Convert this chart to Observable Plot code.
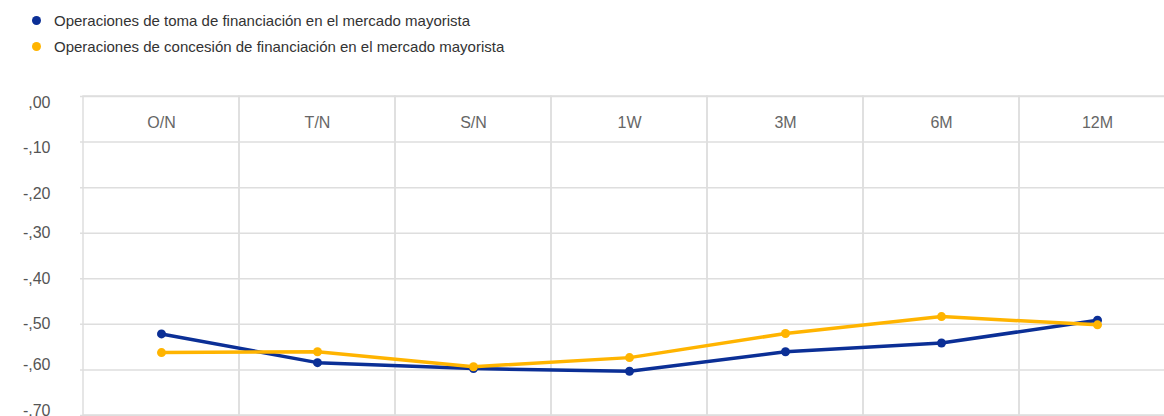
<!DOCTYPE html>
<html>
<head>
<meta charset="utf-8">
<script src="https://cdn.jsdelivr.net/npm/d3@7"></script>
<script src="https://cdn.jsdelivr.net/npm/@observablehq/plot@0.6"></script>
<style>
  html, body { margin: 0; padding: 0; background: #fff; overflow: hidden; }
  body { width: 1164px; height: 416px; font-family: "Liberation Sans", Arial, sans-serif; }
  #legend { height: 70px; box-sizing: border-box; padding-top: 7px; padding-left: 32px; }
  .item { display: flex; align-items: center; height: 26px; font-size: 15px; color: #333; }
  .sw { width: 9px; height: 9px; border-radius: 50%; margin-right: 13px; }
</style>
</head>
<body>
<div id="legend"></div>
<div id="chart"></div>
<script>
const categories = ["O/N", "T/N", "S/N", "1W", "3M", "6M", "12M"];
const seriesNames = [
  "Operaciones de toma de financiación en el mercado mayorista",
  "Operaciones de concesión de financiación en el mercado mayorista"
];
const seriesColors = ["#0b2f96", "#ffb400"];
const tomaValues = [-0.521, -0.584, -0.597, -0.603, -0.560, -0.541, -0.491];
const concesionValues = [-0.562, -0.560, -0.593, -0.573, -0.520, -0.483, -0.501];
const yTicks = [0, -0.1, -0.2, -0.3, -0.4, -0.5, -0.6, -0.7];
const yTickLabels = [",00", "-,10", "-,20", "-,30", "-,40", "-,50", "-,60", "-,70"];
const yTicksUpper = [0, -0.1, -0.2];
const yTicksMiddle = [-0.3, -0.4, -0.5];
const yTicksLower = [-0.6, -0.7];

const data = [];
categories.forEach((c, i) => data.push({cat: c, value: tomaValues[i], series: seriesNames[0]}));
categories.forEach((c, i) => data.push({cat: c, value: concesionValues[i], series: seriesNames[1]}));

// Legend
const legend = document.getElementById("legend");
seriesNames.forEach((n, i) => {
  const d = document.createElement("div");
  d.className = "item";
  d.innerHTML = `<span class="sw" style="background:${seriesColors[i]}"></span><span>${n}</span>`;
  legend.appendChild(d);
});

const grid = "#dedede";
const fmt = d => yTickLabels[yTicks.indexOf(d)];
const yAxisOpts = {tickFormat: fmt, tickSize: 0, tickPadding: 30, fontSize: 16, color: "#555", label: null};
const chart = Plot.plot({
  width: 1164,
  height: 346,
  marginTop: 26,
  marginBottom: 1,
  marginLeft: 80,
  marginRight: 0,
  style: {fontFamily: "Liberation Sans, Arial, sans-serif", background: "#fff"},
  x: {domain: categories, range: [80, 1178], padding: 0},
  y: {domain: [-0.7, 0]},
  color: {domain: seriesNames, range: seriesColors},
  marks: [
    Plot.ruleY(yTicks, {stroke: grid, strokeWidth: 1.5}),
    Plot.cell(categories, {x: d => d, fill: "none", stroke: grid, strokeWidth: 1.5}),
    Plot.axisY({...yAxisOpts, ticks: yTicksUpper, dy: 6}),
    Plot.axisY({...yAxisOpts, ticks: yTicksMiddle, dy: 0}),
    Plot.axisY({...yAxisOpts, ticks: yTicksLower, dy: -5}),
    Plot.axisX({anchor: "top", tickSize: 0, tickPadding: 0, lineAnchor: "middle", dy: 26, fontSize: 16, color: "#666", label: null}),
    Plot.line(data, {x: "cat", y: "value", z: "series", stroke: "series", strokeWidth: 3.5}),
    Plot.dot(data, {x: "cat", y: "value", fill: "series", r: 4.5})
  ]
});
document.getElementById("chart").appendChild(chart);
</script>
</body>
</html>
